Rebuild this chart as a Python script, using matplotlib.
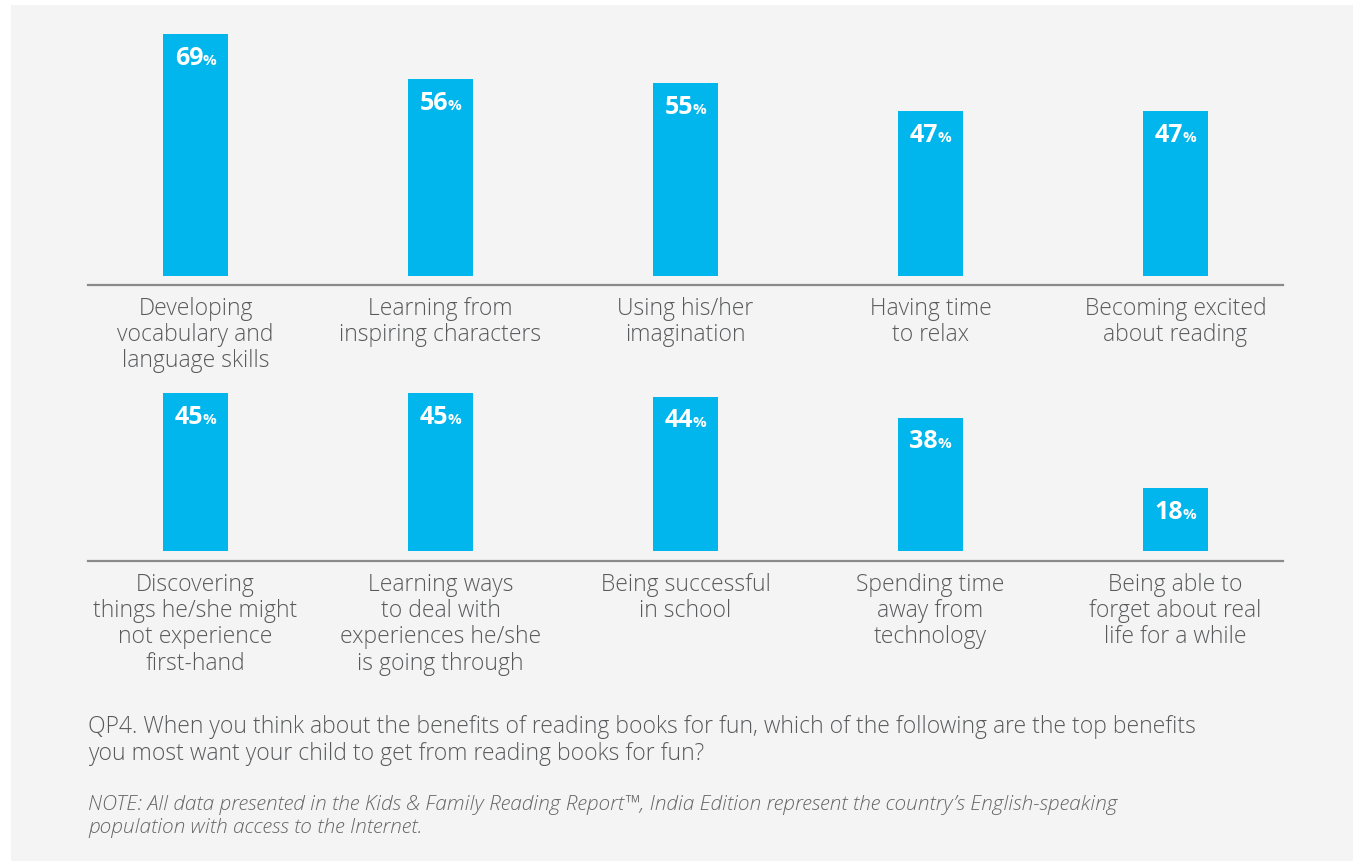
import matplotlib
matplotlib.use("Agg")

import matplotlib.pyplot as plt
from matplotlib.patches import Rectangle

# values
top_labels = [
    "Developing\nvocabulary and\nlanguage skills",
    "Learning from\ninspiring characters",
    "Using his/her\nimagination",
    "Having time\nto relax",
    "Becoming excited\nabout reading",
]
top_values = [69, 56, 55, 47, 47]

bottom_labels = [
    "Discovering\nthings he/she might\nnot experience\nfirst-hand",
    "Learning ways\nto deal with\nexperiences he/she\nis going through",
    "Being successful\nin school",
    "Spending time\naway from\ntechnology",
    "Being able to\nforget about real\nlife for a while",
]
bottom_values = [45, 45, 44, 38, 18]

question = ("QP4. When you think about the benefits of reading books for fun, which of the following are the top benefits\n"
            "you most want your child to get from reading books for fun?")
note = ("NOTE: All data presented in the Kids & Family Reading Report\u2122, India Edition represent the country\u2019s English-speaking\n"
        "population with access to the Internet.")

BAR = "#00b6ed"
TXT = "#58595b"
BG = "#f4f4f4"
FONT = "Open Sans"

W, H = 1353, 862
PX_PER_UNIT = 3.51

fig = plt.figure(figsize=(W / 100, H / 100), dpi=100)
fig.patch.set_facecolor("white")
fig.add_artist(Rectangle((11 / W, 0), 1 - 11 / W, 1 - 6 / H, transform=fig.transFigure,
                         facecolor=BG, edgecolor="none", zorder=-10))


def make_row(line_px, top_px, gap_px, labels, values):
    left, right = 88, 1283
    ax = fig.add_axes([left / W, 1 - line_px / H, (right - left) / W, (line_px - top_px) / H])
    ax.set_facecolor("none")
    lo = -gap_px / PX_PER_UNIT
    ax.set_ylim(lo, lo + (line_px - top_px) / PX_PER_UNIT)
    ax.set_xlim(-0.439, 4.439)
    x = list(range(len(values)))
    ax.bar(x, values, width=0.265, color=BAR, bottom=0)
    for s in ["top", "right", "left"]:
        ax.spines[s].set_visible(False)
    ax.spines["bottom"].set_color("#8a8a8a")
    ax.spines["bottom"].set_linewidth(1.6)
    ax.set_yticks([])
    ax.set_xticks(x)
    ax.set_xticklabels(labels, fontsize=16.5, color=TXT, family=FONT, fontweight="light",
                       linespacing=1.12)
    ax.tick_params(axis="x", length=0, pad=8)
    for xi, v in zip(x, values):
        ax.annotate(str(v), xy=(xi, v), xytext=(5.5, -21.5), textcoords="offset points",
                    ha="right", va="baseline", color="white", fontsize=18,
                    fontweight="bold", family=FONT)
        ax.annotate("%", xy=(xi, v), xytext=(5, -21.5), textcoords="offset points",
                    ha="left", va="baseline", color="white", fontsize=11,
                    fontweight="bold", family=FONT)
    return ax


make_row(286, 20, 9, top_labels, top_values)
make_row(562, 380, 10, bottom_labels, bottom_values)

fig.text(88 / W, 1 - 715 / H, question, ha="left", va="top", fontsize=16.5, color=TXT,
         family=FONT, fontweight="light", linespacing=1.18)
fig.text(88 / W, 1 - 795 / H, note, ha="left", va="top", fontsize=15, color="#666666",
         family=FONT, fontweight="light", style="italic", linespacing=1.2)

fig.savefig("out.png", dpi=100, facecolor=fig.get_facecolor())
